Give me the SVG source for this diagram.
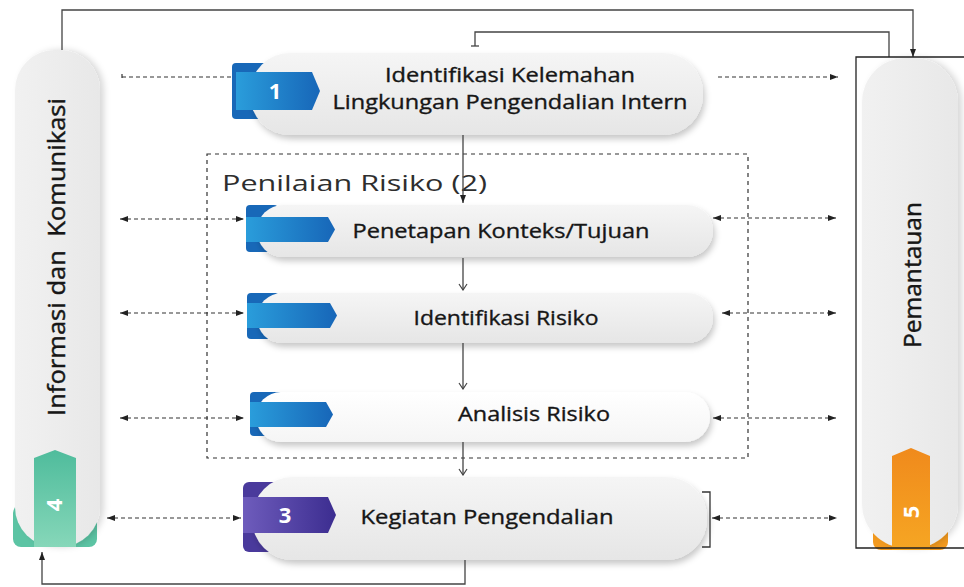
<svg xmlns="http://www.w3.org/2000/svg" width="964" height="587" viewBox="0 0 964 587">
<style>
  .lbl{font-family:"Open Sans","Noto Sans","Liberation Sans",sans-serif;fill:#161616;stroke:#161616;stroke-width:0.35;font-size:20px;text-anchor:middle}
  .side{font-family:"Open Sans","Noto Sans","Liberation Sans",sans-serif;fill:#161616;stroke:#161616;stroke-width:0.45;font-size:24px;text-anchor:middle;white-space:pre}
  .num{font-family:"Open Sans","Liberation Sans",sans-serif;fill:#ffffff;font-weight:bold;font-size:22px;text-anchor:middle}
  .title{font-family:"Open Sans","Noto Sans","Liberation Sans",sans-serif;fill:#2e2e2e;font-size:22px}
  .solid{fill:none;stroke:#444;stroke-width:1.3}
  .dash{fill:none;stroke:#333;stroke-width:1.2;stroke-dasharray:4 3}
  .pill{fill:url(#gpill);filter:url(#sh)}
  .sidepill{fill:url(#gside);filter:url(#sh2)}
</style>
<defs>
  <linearGradient id="gpill" x1="0" y1="0" x2="0" y2="1">
    <stop offset="0" stop-color="#f5f5f5"/><stop offset="1" stop-color="#e6e6e6"/>
  </linearGradient>
  <linearGradient id="gwhite" x1="0" y1="0" x2="0" y2="1">
    <stop offset="0" stop-color="#ffffff"/><stop offset="1" stop-color="#f5f5f5"/>
  </linearGradient>
  <linearGradient id="gside" x1="0" y1="0" x2="1" y2="0">
    <stop offset="0" stop-color="#f1f1f1"/><stop offset="1" stop-color="#e8e8e8"/>
  </linearGradient>
  <linearGradient id="gblue" x1="0" y1="0" x2="1" y2="0">
    <stop offset="0" stop-color="#2a9ddb"/><stop offset="1" stop-color="#1766b8"/>
  </linearGradient>
  <linearGradient id="gpurple" x1="0" y1="0" x2="1" y2="0">
    <stop offset="0" stop-color="#6e5cbc"/><stop offset="1" stop-color="#3c2d90"/>
  </linearGradient>
  <linearGradient id="ggreen" x1="0" y1="0" x2="0" y2="1">
    <stop offset="0" stop-color="#4fbc9c"/><stop offset="1" stop-color="#86d7b9"/>
  </linearGradient>
  <linearGradient id="gorange" x1="0" y1="0" x2="0" y2="1">
    <stop offset="0" stop-color="#f08a1c"/><stop offset="1" stop-color="#f6a623"/>
  </linearGradient>
  <filter id="sh" x="-10%" y="-30%" width="120%" height="170%">
    <feDropShadow dx="2" dy="4" stdDeviation="3" flood-color="#000" flood-opacity="0.22"/>
  </filter>
  <filter id="sh2" x="-30%" y="-5%" width="160%" height="110%">
    <feDropShadow dx="4" dy="0" stdDeviation="3" flood-color="#000" flood-opacity="0.15"/>
  </filter>
  <marker id="tri" viewBox="0 0 8 6" refX="8" refY="3" markerWidth="8" markerHeight="6" markerUnits="userSpaceOnUse" orient="auto-start-reverse">
    <path d="M0,0 L8,3 L0,6 Z" fill="#222"/>
  </marker>
  <marker id="vee" viewBox="-1 -5 8 10" refX="6" refY="0" markerWidth="8" markerHeight="10" markerUnits="userSpaceOnUse" orient="auto">
    <path d="M0,-4 L6,0 L0,4" fill="none" stroke="#444" stroke-width="1.2"/>
  </marker>
</defs>
<rect width="964" height="587" fill="#ffffff"/>

<g id="penilaian-risiko">
  <rect x="207" y="154" width="541" height="304" fill="none" stroke="#333" stroke-width="1.2" stroke-dasharray="4 4"/>
  <text class="title" x="222" y="191" textLength="265" lengthAdjust="spacingAndGlyphs">Penilaian Risiko (2)</text>
</g>

<g id="informasi-komunikasi">
  <rect x="13" y="505" width="84" height="42" rx="8" fill="#5cc4a4"/>
  <rect class="sidepill" x="15" y="50" width="85" height="497" rx="40"/>
  <path d="M34,547 V458 L55,450 L76,458 V547 Z" fill="url(#ggreen)"/>
  <text class="num" transform="translate(63,505) rotate(-90)" x="0" y="0" dy="-1">4</text>
  <text class="side" transform="translate(65,257) rotate(-90)" x="0" y="0" textLength="318" lengthAdjust="spacingAndGlyphs">Informasi dan  Komunikasi</text>
</g>

<g id="pemantauan">
  <rect x="873" y="505" width="75" height="45" rx="8" fill="#f39a1f"/>
  <rect class="sidepill" x="862" y="58" width="96" height="490" rx="44"/>
  <path d="M892,550 V456 L911,448 L930,456 V550 Z" fill="url(#gorange)"/>
  <text class="num" transform="translate(919,512) rotate(-90)" x="0" y="0">5</text>
  <text class="side" transform="translate(921,275) rotate(-90)" x="0" y="0" textLength="146" lengthAdjust="spacingAndGlyphs">Pemantauan</text>
</g>

<g id="node-1">
  <rect x="232" y="63" width="40" height="56" rx="4" fill="#1868b8"/>
  <rect class="pill" x="250" y="53" width="453" height="82" rx="40"/>
  <path d="M236,72 H312 L320,91 L312,110 H236 Z" fill="url(#gblue)"/>
  <text class="num" x="275" y="99">1</text>
  <text class="lbl" x="510" y="82" textLength="250" lengthAdjust="spacingAndGlyphs">Identifikasi Kelemahan</text>
  <text class="lbl" x="510" y="109" textLength="355" lengthAdjust="spacingAndGlyphs">Lingkungan Pengendalian Intern</text>
</g>

<g id="node-penetapan">
  <rect x="246" y="205" width="32" height="47" rx="4" fill="#1868b8"/>
  <rect class="pill" x="257" y="205" width="456" height="52" rx="26"/>
  <path d="M246,217 H328 L335,229.5 L328,242 H246 Z" fill="url(#gblue)"/>
  <text class="lbl" x="501" y="238" textLength="297" lengthAdjust="spacingAndGlyphs">Penetapan Konteks/Tujuan</text>
</g>

<g id="node-identifikasi">
  <rect x="247" y="293" width="32" height="46" rx="4" fill="#1868b8"/>
  <rect class="pill" x="257" y="293" width="456" height="50" rx="25"/>
  <path d="M247,303 H330 L337,315.5 L330,328 H247 Z" fill="url(#gblue)"/>
  <text class="lbl" x="506" y="325" textLength="185" lengthAdjust="spacingAndGlyphs">Identifikasi Risiko</text>
</g>

<g id="node-analisis">
  <rect x="250" y="392" width="32" height="44" rx="4" fill="#1868b8"/>
  <rect x="256" y="392" width="454" height="50" rx="25" fill="url(#gwhite)" filter="url(#sh)"/>
  <path d="M250,402 H326 L333,414.5 L326,427 H250 Z" fill="url(#gblue)"/>
  <text class="lbl" x="534" y="421" textLength="152" lengthAdjust="spacingAndGlyphs">Analisis Risiko</text>
</g>

<g id="node-3">
  <rect x="243" y="482" width="40" height="70" rx="6" fill="#4a3a9c"/>
  <rect class="pill" x="252" y="477" width="455" height="83" rx="41"/>
  <path d="M243,497 H328 L336,515 L328,533 H243 Z" fill="url(#gpurple)"/>
  <text class="num" x="285" y="523">3</text>
  <text class="lbl" x="487" y="524" textLength="253" lengthAdjust="spacingAndGlyphs">Kegiatan Pengendalian</text>
</g>

<g id="connectors">
  <polyline class="solid" points="62,50 62,10 913,10 913,57" marker-end="url(#tri)"/>
  <polyline class="solid" points="475,46 475,32 889,32 889,57"/>
  <path class="solid" d="M471,46 H479"/>
  <path d="M968,57 H856 V548 H968" fill="none" stroke="#222" stroke-width="1.3"/>
  <polyline class="solid" points="465,560 465,584 42,584 42,552" marker-end="url(#tri)"/>
  <path d="M702,492 H710 V547 H702" fill="none" stroke="#333" stroke-width="1.3"/>

  <path class="solid" d="M463,135 V203" marker-end="url(#tri)"/>
  <path class="solid" d="M463,258 V290" marker-end="url(#vee)"/>
  <path class="solid" d="M463,343 V389" marker-end="url(#vee)"/>
  <path class="solid" d="M463,442 V475" marker-end="url(#vee)"/>

  <path class="dash" d="M122,77 H232"/>
  <path class="dash" d="M122,74 V80"/>
  <path class="dash" d="M718,77 H838" marker-end="url(#tri)"/>

  <path class="dash" d="M120,219 H244" marker-start="url(#tri)" marker-end="url(#tri)"/>
  <path class="dash" d="M713,218 H836" marker-start="url(#tri)" marker-end="url(#tri)"/>

  <path class="dash" d="M120,313 H244" marker-start="url(#tri)" marker-end="url(#tri)"/>
  <path class="dash" d="M722,313 H836" marker-start="url(#tri)" marker-end="url(#tri)"/>

  <path class="dash" d="M120,418 H244" marker-start="url(#tri)" marker-end="url(#tri)"/>
  <path class="dash" d="M713,418 H836" marker-start="url(#tri)" marker-end="url(#tri)"/>

  <path class="dash" d="M107,518 H241" marker-start="url(#tri)" marker-end="url(#tri)"/>
  <path class="dash" d="M712,518 H837" marker-start="url(#tri)" marker-end="url(#tri)"/>
</g>
</svg>
